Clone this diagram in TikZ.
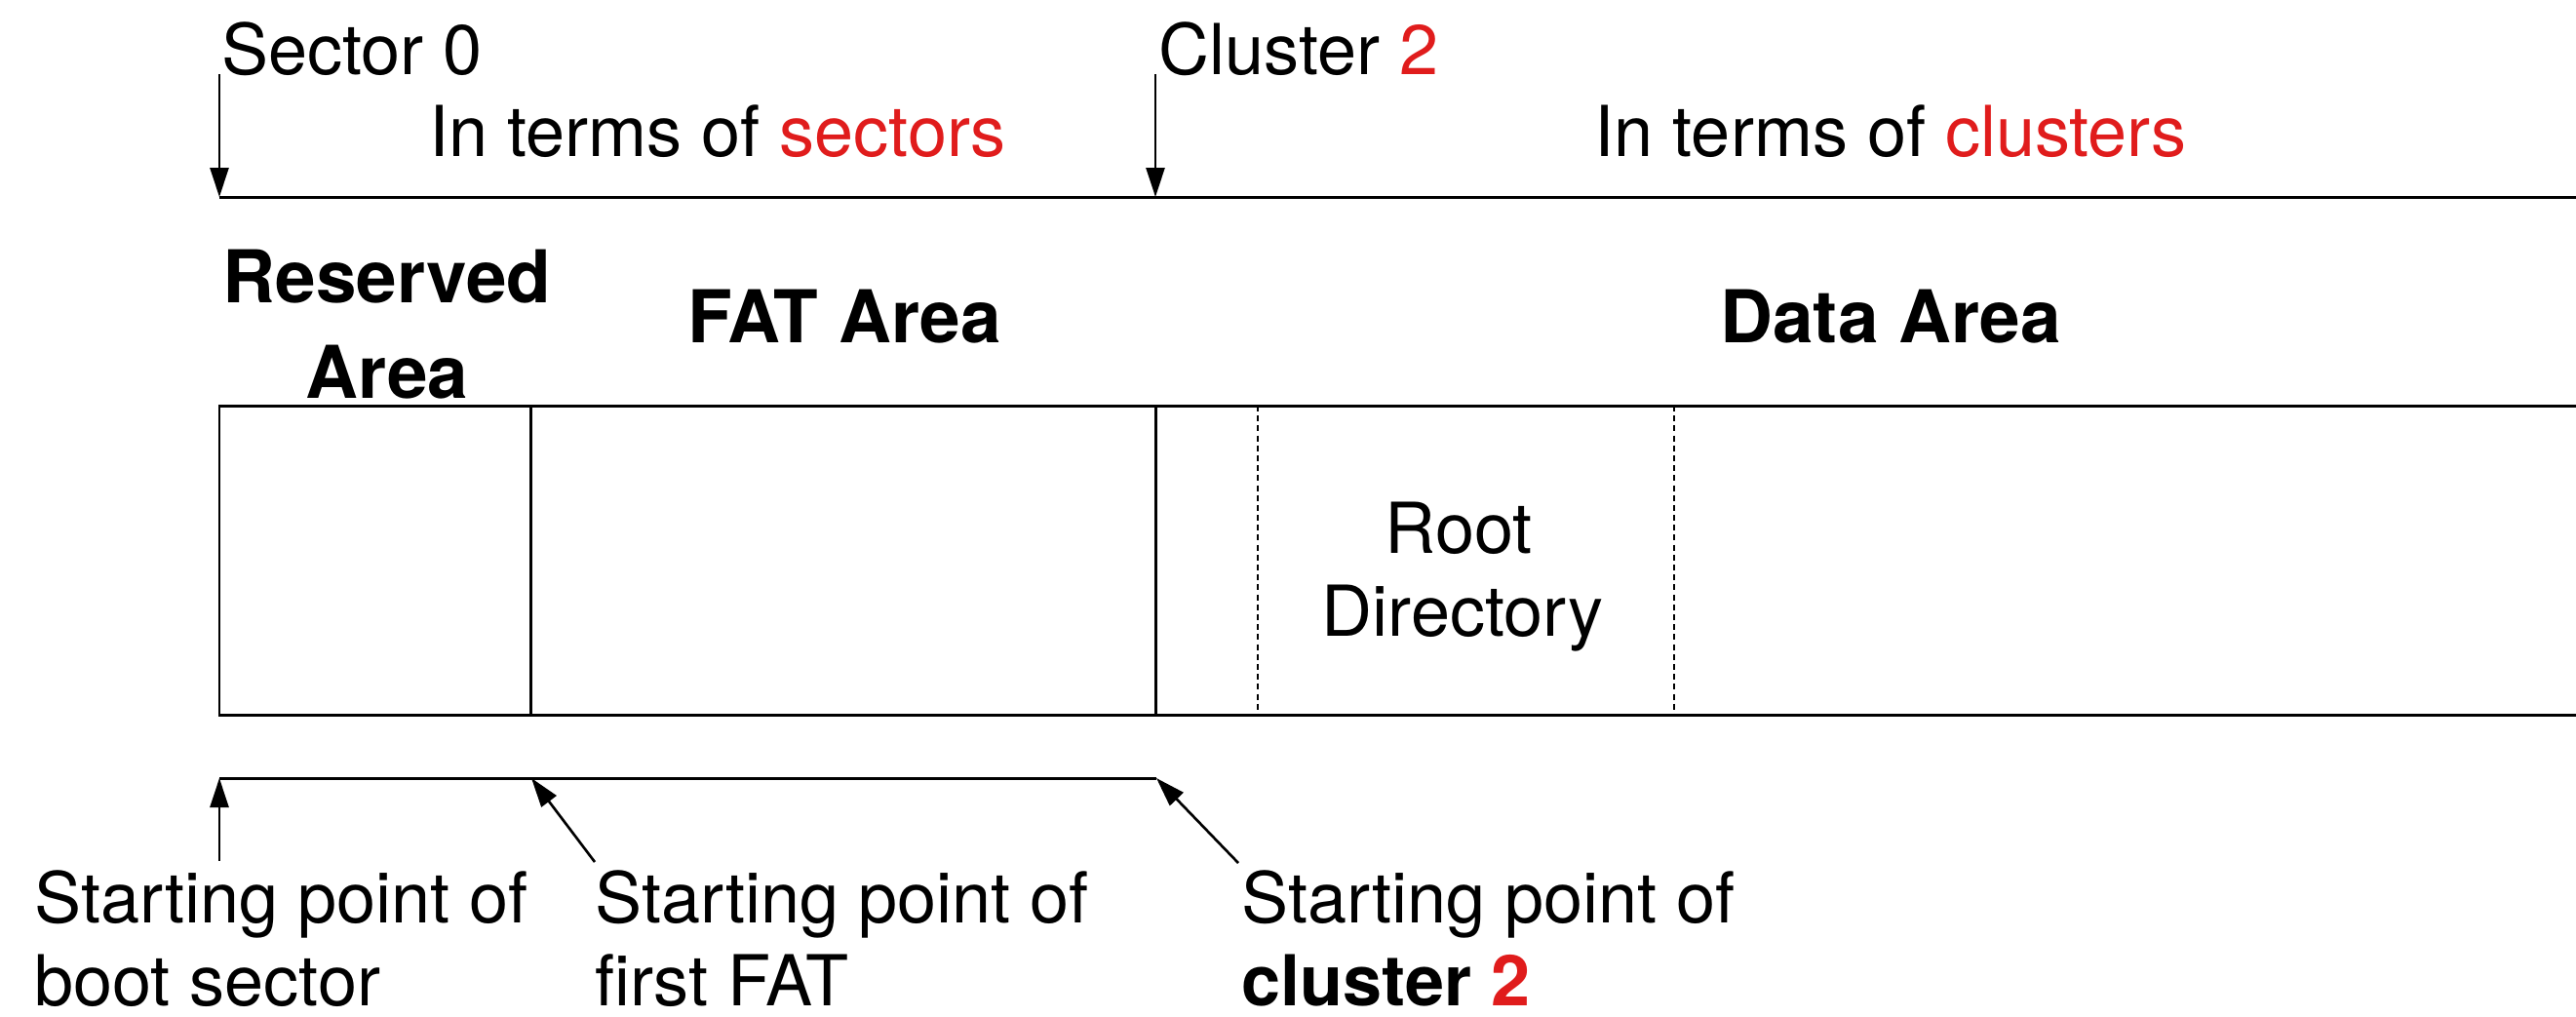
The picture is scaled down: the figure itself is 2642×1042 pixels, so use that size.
\documentclass[tikz,border=0pt]{standalone}
\usepackage{fontspec}
\setmainfont{TeX Gyre Heros}
\usetikzlibrary{arrows.meta}
\definecolor{hl}{RGB}{224,28,28}
\begin{document}
\begin{tikzpicture}[x=0.02cm,y=-0.02cm,
  lbl/.style={inner sep=0pt,anchor=base,font=\fontsize{41}{49}\selectfont},
  lblw/.style={lbl,anchor=base west},
  ttl/.style={inner sep=0pt,anchor=base,font=\fontsize{42.5}{51}\selectfont\bfseries},
  ln/.style={line width=1.7pt},
  dl/.style={line width=1.5pt,dash pattern=on 3.4pt off 2.4pt},
  arr/.style={line width=1.5pt,-{Triangle[length=0.6cm,width=0.38cm]}}]
\useasboundingbox (0,0) rectangle (2642,1042);
\fill[white] (0,0) rectangle (2642,1042);

% top labels
\node[lblw] (sec0) at (227,76) {Sector 0};
\node[lblw] (clu2) at (1188,76) {Cluster \textcolor{hl}{2}};
\node[lbl] (tsec) at (736,160) {In terms of \textcolor{hl}{sectors}};
\node[lbl] (tclu) at (1939,160) {In terms of \textcolor{hl}{clusters}};

% top scale line
\coordinate (tl) at (225,202);
\coordinate (tc) at (1185,202);
\coordinate (tr) at (2642,202);
\coordinate (a0) at (225,76);
\coordinate (a1) at (1185,76);
\draw[ln] (tl) -- (tr);
\draw[arr] (a0) -- (tl);
\draw[arr] (a1) -- (tc);

% area titles
\node[ttl] (res1) at (397,310) {Reserved};
\node[ttl] (res2) at (397,408) {Area};
\node[ttl] (fat) at (866,351) {FAT Area};
\node[ttl] (data) at (1939,351) {Data Area};

% box
\draw[ln] (2642,416) -- (225,416) -- (225,733) -- (2642,733);
\draw[ln] (544,416) -- (544,733);
\draw[ln] (1185,416) -- (1185,733);
\draw[dl] (1290,416) -- (1290,733);
\draw[dl] (1717,416) -- (1717,733);
\node[lbl] (root1) at (1496,567) {Root};
\node[lbl] (root2) at (1500,652) {Directory};

% bottom scale line
\coordinate (bl) at (225,798);
\coordinate (bf) at (545,798);
\coordinate (bc) at (1186,798);
\draw[ln] (bl) -- (bc);

% bottom labels
\node[lblw] (b1a) at (35,946) {Starting point of};
\node[lblw] (b1b) at (35,1031) {boot sector};
\node[lblw] (b2a) at (610,946) {Starting point of};
\node[lblw] (b2b) at (610,1031) {first FAT};
\node[lblw] (b3a) at (1273,946) {Starting point of};
\node[lblw] (b3b) at (1273,1031) {\bfseries cluster \textcolor{hl}{2}};

\coordinate (t1) at (225,883);
\coordinate (t2) at (610,884);
\coordinate (t3) at (1270,885);
\draw[arr] (t1) -- (bl);
\draw[arr] (t2) -- (bf);
\draw[arr] (t3) -- (bc);
\end{tikzpicture}
\end{document}
